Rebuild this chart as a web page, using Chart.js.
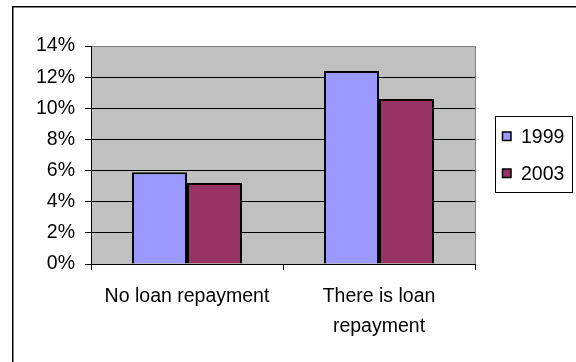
<!DOCTYPE html>
<html>
<head>
<meta charset="utf-8">
<script src="https://cdn.jsdelivr.net/npm/chart.js@4/dist/chart.umd.min.js"></script>
<style>
  html, body { margin: 0; padding: 0; background: #fff; }
  canvas { display: block; }
</style>
</head>
<body>
<canvas id="c" width="576" height="362"></canvas>
<script>
// Share of households by loan repayment status, 1999 vs 2003
const categories = ['No loan repayment', ['There is loan', 'repayment']];
const seriesNames = ['1999', '2003'];
const values1999 = [5.9, 12.4];
const values2003 = [5.2, 10.6];
const yTicks = [0, 2, 4, 6, 8, 10, 12, 14];

const FONT = "'Liberation Sans', Arial, sans-serif";
const FONT_SIZE = 19.5;

// Frame around the whole chart, grey plot background, plot edge and legend
const framePlugin = {
  id: 'frame',
  beforeDraw(chart) {
    const { ctx, chartArea: a } = chart;
    ctx.save();
    ctx.fillStyle = '#C0C0C0';
    ctx.fillRect(a.left, a.top, a.right - a.left, a.bottom - a.top);
    ctx.restore();
  },
  afterDraw(chart) {
    const { ctx, chartArea: a } = chart;
    ctx.save();
    // outer chart frame
    ctx.strokeStyle = '#000';
    ctx.lineWidth = 1.5;
    ctx.strokeRect(12.75, 6.75, 600, 400);
    // right edge of plot
    ctx.strokeStyle = '#808080';
    ctx.lineWidth = 1;
    ctx.beginPath();
    ctx.moveTo(Math.round(a.right) + 0.5, a.top);
    ctx.lineTo(Math.round(a.right) + 0.5, a.bottom);
    ctx.stroke();

    // legend box
    const lx = 495.5, ly = 116.5, lw = 77, lh = 76;
    ctx.fillStyle = '#fff';
    ctx.fillRect(lx, ly, lw, lh);
    ctx.strokeStyle = '#000';
    ctx.lineWidth = 1;
    ctx.strokeRect(lx, ly, lw, lh);
    ctx.font = FONT_SIZE + 'px ' + FONT;
    ctx.textBaseline = 'middle';
    ctx.textAlign = 'left';
    const rows = [136.5, 173.5];
    chart.data.datasets.forEach((ds, i) => {
      const cy = rows[i];
      ctx.fillStyle = ds.backgroundColor;
      ctx.fillRect(502.5, cy - 4.5, 8.5, 8.5);
      ctx.strokeStyle = '#000';
      ctx.lineWidth = 1.5;
      ctx.strokeRect(502.5, cy - 4.5, 8.5, 8.5);
      ctx.fillStyle = '#000';
      ctx.fillText(ds.label, 521, cy + 1);
    });
    ctx.restore();
  }
};

new Chart(document.getElementById('c'), {
  type: 'bar',
  data: {
    labels: categories,
    datasets: [
      { label: seriesNames[0], data: values1999, backgroundColor: '#9999FF', borderColor: '#000', borderWidth: 2 },
      { label: seriesNames[1], data: values2003, backgroundColor: '#993366', borderColor: '#000', borderWidth: 2 }
    ]
  },
  options: {
    responsive: false,
    animation: false,
    devicePixelRatio: 1,
    layout: { padding: { top: 46, right: 101, bottom: 0, left: 0 } },
    datasets: { bar: { categoryPercentage: 0.573, barPercentage: 1 } },
    plugins: { legend: { display: false }, tooltip: { enabled: false } },
    scales: {
      x: {
        offset: true,
        grid: { offset: true, drawOnChartArea: false, color: '#000', tickLength: 6, lineWidth: 1 },
        border: { color: '#000', width: 1 },
        ticks: { color: '#000', padding: 11, maxRotation: 0, autoSkip: false, font: { family: FONT, size: FONT_SIZE, lineHeight: 1.56 } },
        afterFit(scale) { scale.height = 98; }
      },
      y: {
        min: 0, max: 14,
        afterBuildTicks(scale) { scale.ticks = yTicks.map(v => ({ value: v })); },
        grid: {
          color: (c) => (c.tick && c.tick.value === 14 ? '#808080' : '#000'),
          tickColor: '#000', tickLength: 6, lineWidth: 1
        },
        border: { color: '#000', width: 1 },
        ticks: {
          color: '#000', padding: 10,
          font: { family: FONT, size: FONT_SIZE },
          callback: (v) => v + '%'
        },
        afterFit(scale) { scale.width = 91; }
      }
    }
  },
  plugins: [framePlugin]
});
</script>
</body>
</html>
